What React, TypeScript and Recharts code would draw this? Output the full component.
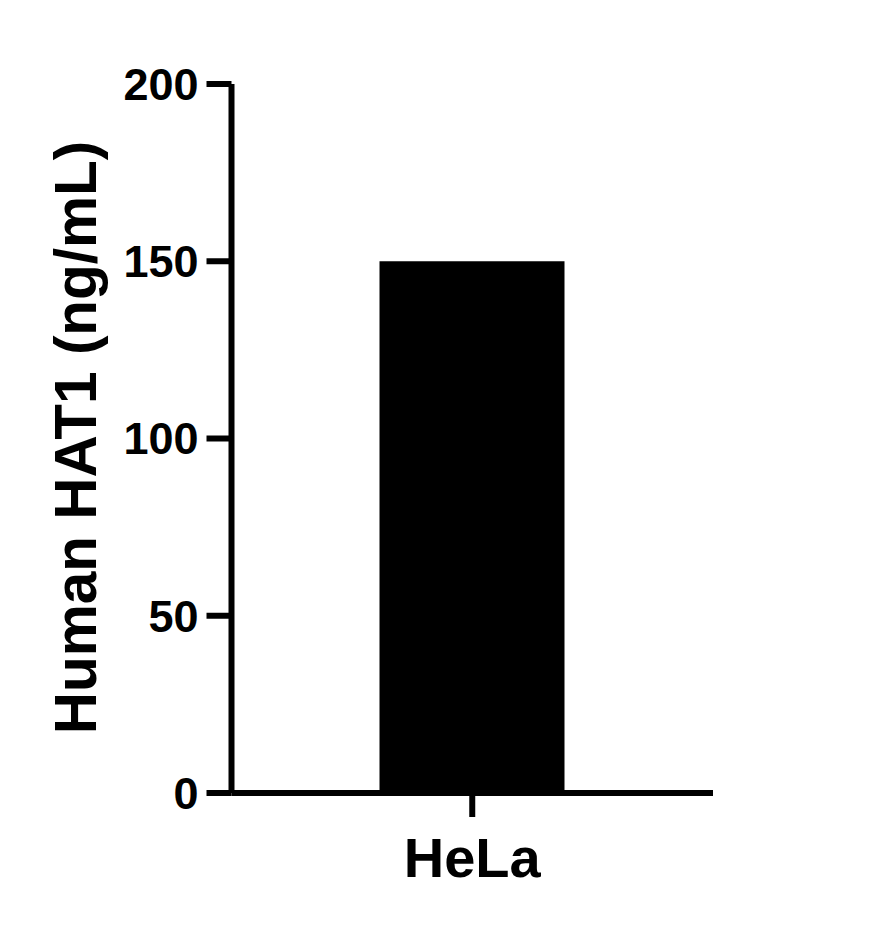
import React from 'react';
import { BarChart, Bar, XAxis, YAxis, Label } from 'recharts';

const categories = ['HeLa'];
const values = [150];
const yTicks = [0, 50, 100, 150, 200];
const yLabel = 'Human HAT1 (ng/mL)';

const data = categories.map((c, i) => ({ name: c, value: values[i] }));

const FONT = '"Liberation Sans", Arial, Helvetica, sans-serif';

const YLabelContent = (props: any) => {
  const vb = props.viewBox || {};
  const cy = vb.y + vb.height / 2;
  const x = 96;
  const y = cy - 1;
  return (
    <text
      x={x}
      y={y}
      transform={`rotate(-90, ${x}, ${y})`}
      textAnchor="middle"
      fontFamily={FONT}
      fontWeight="bold"
      fontSize={58.5}
      fill="#000"
    >
      {yLabel}
    </text>
  );
};

export default function App() {
  return (
    <div style={{ position: 'absolute', left: 0, top: 0, background: '#fff' }}>
      <BarChart
        width={892}
        height={928}
        data={data}
        margin={{ top: 84, right: 179, bottom: 0, left: 0 }}
      >
        <XAxis
          dataKey="name"
          height={135}
          axisLine={{ stroke: '#000', strokeWidth: 6 }}
          tickLine={{ stroke: '#000', strokeWidth: 6 }}
          tickSize={24}
          tickMargin={20}
          tick={{ fill: '#000', fontFamily: FONT, fontWeight: 'bold', fontSize: 56 }}
        />
        <YAxis
          width={231.5}
          domain={[0, 200]}
          ticks={yTicks}
          interval={0}
          axisLine={{ stroke: '#000', strokeWidth: 6 }}
          tickLine={{ stroke: '#000', strokeWidth: 6 }}
          tickSize={25}
          tickMargin={8}
          tick={{ fill: '#000', fontFamily: FONT, fontWeight: 'bold', fontSize: 45 }}
        >
          <Label content={<YLabelContent />} />
        </YAxis>
        <Bar dataKey="value" fill="#000" barSize={185} isAnimationActive={false} />
      </BarChart>
    </div>
  );
}
